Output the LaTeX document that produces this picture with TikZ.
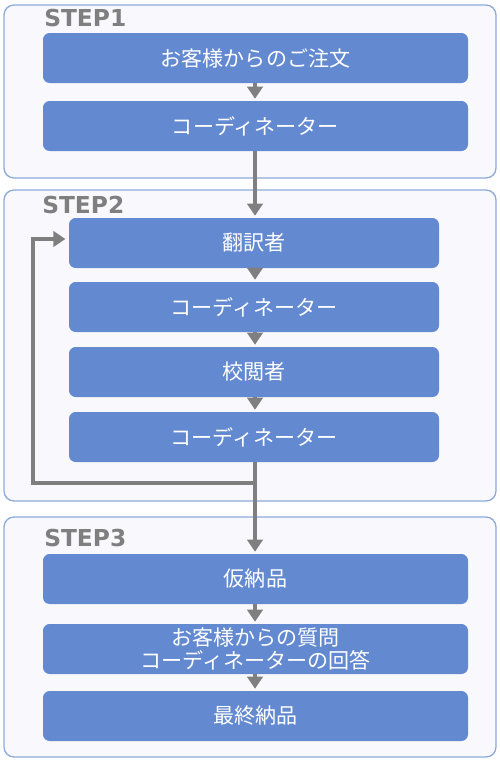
\documentclass[tikz,border=0pt]{standalone}
\usepackage{fontspec}
\newfontfamily\jp{Noto Sans CJK JP}
\newfontfamily\stepfont{DejaVu Sans}
\usetikzlibrary{arrows.meta}
\definecolor{boxblue}{HTML}{6389D0}
\definecolor{frameline}{HTML}{8EAADB}
\definecolor{framefill}{HTML}{F9F9FD}
\definecolor{arrgray}{HTML}{7F7F7F}
\tikzset{
  frame/.style={draw=frameline, fill=framefill, line width=1pt, rounded corners=7.5pt, inner sep=0pt},
  stepbox/.style={fill=boxblue, rounded corners=5pt, inner sep=0pt, text=white, font=\jp\fontsize{15.8pt}{17pt}\selectfont, align=center, minimum height=37.5pt},
  wide/.style={minimum width=318.75pt},
  narrow/.style={minimum width=277.5pt},
  steplabel/.style={text=arrgray, font=\stepfont\bfseries\fontsize{17.5pt}{19pt}\selectfont, inner sep=0pt, anchor=west},
  arr/.style={draw=arrgray, line width=3.6pt, -{Triangle[length=9pt,width=11.5pt]}, shorten >=1.5pt},
  lin/.style={draw=arrgray, line width=3.6pt}
}
\begin{document}
\begin{tikzpicture}[x=0.75pt,y=-0.75pt]
\useasboundingbox (0,0) rectangle (500,761);
% frames
\node[frame, minimum width=369pt, minimum height=129.75pt] (f1) at (250,91.5) {};
\node[frame, minimum width=369pt, minimum height=233.25pt] (f2) at (250,345.5) {};
\node[frame, minimum width=369pt, minimum height=180pt] (f3) at (250,637) {};
% labels
\node[steplabel] (l1) at (44,18) {STEP1};
\node[steplabel] (l2) at (42,205) {STEP2};
\node[steplabel] (l3) at (44,538) {STEP3};
% step1
\node[stepbox, wide] (a1) at (255.5,58) {お客様からのご注文};
\node[stepbox, wide] (a2) at (255.5,126) {コーディネーター};
% step2
\node[stepbox, narrow] (b1) at (254,243) {翻訳者};
\node[stepbox, narrow] (b2) at (254,307) {コーディネーター};
\node[stepbox, narrow] (b3) at (254,372) {校閲者};
\node[stepbox, narrow] (b4) at (254,437) {コーディネーター};
% step3
\node[stepbox, wide] (c1) at (255.5,579) {仮納品};
\node[stepbox, wide, font=\jp\fontsize{15.8pt}{16.8pt}\selectfont] (c2) at (255.5,649) {お客様からの質問\\コーディネーターの回答};
\node[stepbox, wide] (c3) at (255.5,716) {最終納品};
% coordinates
\coordinate (ax) at (255,0);
\coordinate (j) at (255,483);
\coordinate (l) at (33,483);
% arrows
\draw[arr] (a1.south -| ax) -- (a2.north -| ax);
\draw[arr] (a2.south -| ax) -- (b1.north -| ax);
\draw[arr] (b1.south -| ax) -- (b2.north -| ax);
\draw[arr] (b2.south -| ax) -- (b3.north -| ax);
\draw[arr] (b3.south -| ax) -- (b4.north -| ax);
\draw[arr] (b4.south -| ax) -- (j) -- (c1.north -| ax);
\draw[arr, shorten >=2.5pt] (j) -- (l) |- ([yshift=3pt]b1.west);
\draw[arr] (c1.south -| ax) -- (c2.north -| ax);
\draw[arr] (c2.south -| ax) -- (c3.north -| ax);
\end{tikzpicture}
\end{document}
